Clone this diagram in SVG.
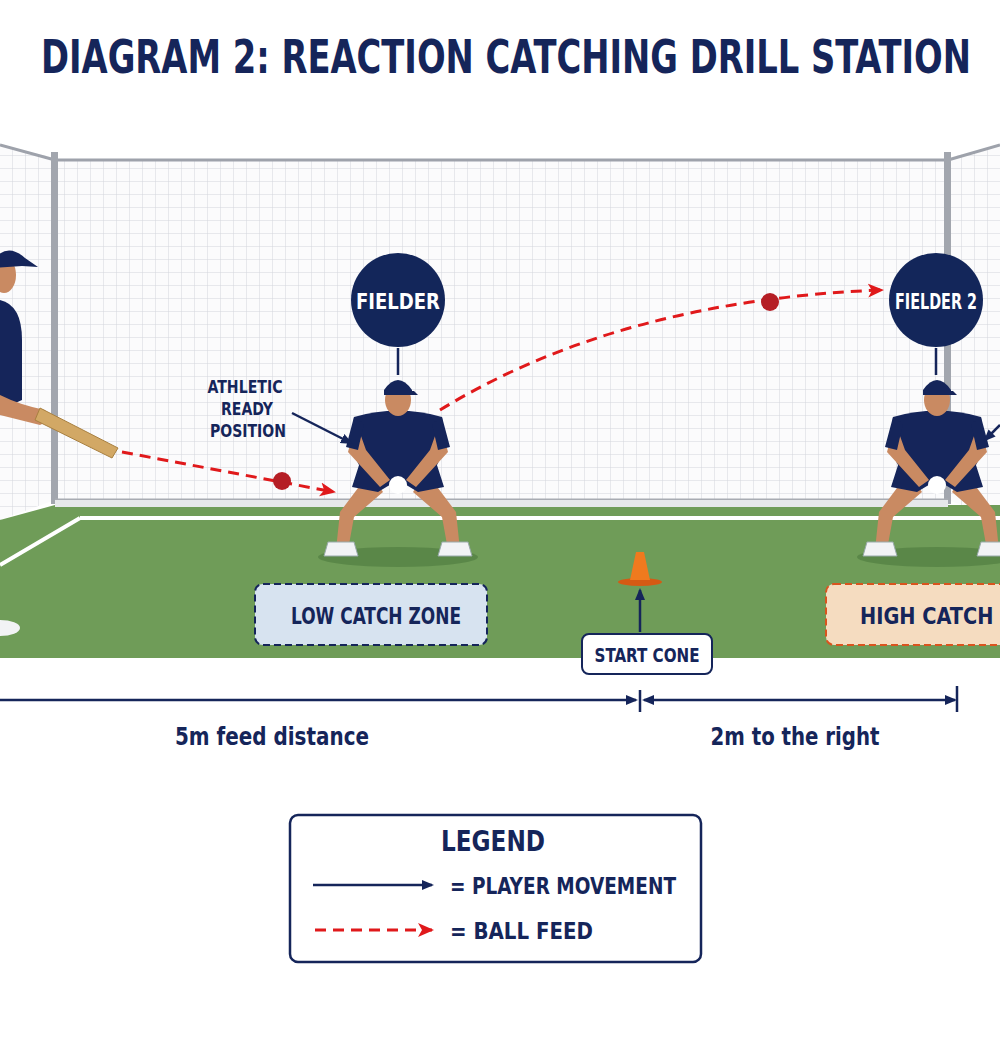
<svg xmlns="http://www.w3.org/2000/svg" width="1000" height="1056" viewBox="0 0 1000 1056">
<defs>
<style>
.t{font-family:"DejaVu Sans Condensed","DejaVu Sans",sans-serif;font-weight:bold;fill:#15255a}
.feed{fill:none;stroke:#e0191b;stroke-width:3;stroke-dasharray:11 7}
.nav{fill:none;stroke:#15255a;stroke-width:2.5}
.skin{fill:#c98a62}
.shirt{fill:#15255a}
</style>
<pattern id="net" width="13" height="13" patternUnits="userSpaceOnUse">
<rect width="13" height="13" fill="#fbfbfc"/>
<path d="M13 0V13M0 13H13" stroke="#d4d6dc" stroke-width="1"/>
</pattern>
<marker id="ar" markerWidth="16" markerHeight="16" refX="14" refY="8" orient="auto" markerUnits="userSpaceOnUse" viewBox="0 0 16 16"><path d="M0 1L16 8L0 15L4 8z" fill="#e0191b"/></marker>
<marker id="an" markerWidth="12" markerHeight="12" refX="10" refY="6" orient="auto" markerUnits="userSpaceOnUse" viewBox="0 0 12 12"><path d="M0 1L12 6L0 11z" fill="#15255a"/></marker>
<marker id="anr" markerWidth="12" markerHeight="12" refX="2" refY="6" orient="auto" markerUnits="userSpaceOnUse" viewBox="0 0 12 12"><path d="M12 1L0 6L12 11z" fill="#15255a"/></marker>
<g id="fielder">
<ellipse cx="0" cy="165" rx="80" ry="10" fill="#4d7a3e" opacity="0.6"/>
<path d="M-28 80 L-58 120 L-62 158 L-50 158 L-44 125 L-15 100Z" class="skin"/>
<path d="M28 80 L58 120 L62 158 L50 158 L44 125 L15 100Z" class="skin"/>
<path d="M-70 150h26l4 14h-34z M44 150h26l4 14h-34z" fill="#f2f3f5" stroke="#9aa" stroke-width="1"/>
<path d="M-38 70 L38 70 L46 95 L20 100 L0 88 L-20 100 L-46 95Z" class="shirt"/>
<path d="M-44 25 Q0 12 44 25 L48 55 L38 75 L-38 75 L-48 55Z" class="shirt"/>
<path d="M-42 30 L-50 60 L-18 95 L-8 88 L-32 58Z M42 30 L50 60 L18 95 L8 88 L32 58Z" class="skin"/>
<path d="M-44 25 L-52 55 L-40 58 L-34 32Z M44 25 L52 55 L40 58 L34 32Z" class="shirt"/>
<circle cx="0" cy="93" r="9" fill="#fff"/>
<ellipse cx="0" cy="8" rx="13" ry="16" class="skin"/>
<path d="M-14 -2 Q0 -22 14 -2 L14 0 H-14Z" class="shirt"/>
<path d="M-14 -1 H16 L20 3 H-14Z" class="shirt"/>
</g>
</defs>
<rect width="1000" height="1056" fill="#fff"/>
<rect x="55" y="160" width="893" height="340" fill="url(#net)"/>
<polygon points="0,145 55,158 55,500 0,520" fill="url(#net)"/>
<polygon points="948,158 1000,145 1000,520 948,500" fill="url(#net)"/>
<path d="M55 160H948 M0 145L55 160 M948 160L1000 145" stroke="#9ea2ab" stroke-width="3" fill="none"/>
<rect x="51" y="152" width="7" height="352" fill="#a2a6ae"/>
<rect x="944" y="152" width="7" height="352" fill="#a2a6ae"/>
<path d="M55 500H948" stroke="#a8abb2" stroke-width="3"/>
<polygon points="0,520 55,505 948,505 1000,505 1000,658 0,658" fill="#6f9c58"/>
<rect x="55" y="500" width="893" height="7" fill="#e6e8ea"/>
<path d="M80 518H1000 M0 565L80 518" stroke="#fff" stroke-width="4" fill="none"/>
<g id="batter">
<ellipse cx="0" cy="628" rx="20" ry="8" fill="#f2f3f5"/>
<path d="M0 300 Q22 305 22 340 L22 400 L0 410Z" class="shirt"/>
<path d="M0 395 Q20 405 45 410 L50 420 L40 425 L0 415Z" class="skin"/>
<path d="M40 408 L118 448 L112 458 L35 420Z" fill="#d2a865" stroke="#a88040" stroke-width="1"/>
<ellipse cx="4" cy="275" rx="12" ry="18" class="skin"/>
<path d="M-10 265 Q5 240 25 258 L38 267 L22 266 L-10 268Z" class="shirt"/>
</g>
<g id="fielder1"><use href="#fielder" x="398" y="392"/></g>
<g id="fielder2"><use href="#fielder" x="937" y="392"/></g>
<g id="low-zone"><rect x="255" y="584" width="232" height="61" rx="8" fill="#d7e3f0" stroke="#15255a" stroke-width="2" stroke-dasharray="7 4"/>
<text x="376" y="624" class="t" font-size="23" text-anchor="middle" textLength="170" lengthAdjust="spacingAndGlyphs">LOW CATCH ZONE</text></g>
<g id="high-zone"><rect x="826" y="584" width="200" height="61" rx="8" fill="#f5dcc0" stroke="#d9541e" stroke-width="2" stroke-dasharray="7 4"/>
<text x="860" y="624" class="t" font-size="23" textLength="200" lengthAdjust="spacingAndGlyphs">HIGH CATCH ZONE</text></g>
<g id="cone"><ellipse cx="640" cy="582" rx="22" ry="4" fill="#d55a14"/><path d="M630 580 L636 552 H644 L650 580Z" fill="#f07a1e"/></g>
<g id="start-cone"><rect x="582" y="634" width="130" height="40" rx="7" fill="#fff" stroke="#15255a" stroke-width="2"/>
<text x="647" y="662" class="t" font-size="19" text-anchor="middle" textLength="105" lengthAdjust="spacingAndGlyphs">START CONE</text></g>
<g id="fielder-label"><circle cx="398" cy="300" r="47" fill="#13265a"/><text x="398" y="309" class="t" font-size="22" text-anchor="middle" style="fill:#fff" textLength="84" lengthAdjust="spacingAndGlyphs">FIELDER</text></g>
<g id="fielder2-label"><circle cx="936" cy="300" r="47" fill="#13265a"/><text x="936" y="309" class="t" font-size="21" text-anchor="middle" style="fill:#fff" textLength="82" lengthAdjust="spacingAndGlyphs">FIELDER 2</text></g>
<g id="ready-label"><text class="t" font-size="18" text-anchor="middle"><tspan x="245" y="393" textLength="75" lengthAdjust="spacingAndGlyphs">ATHLETIC</tspan><tspan x="247" y="415" textLength="52" lengthAdjust="spacingAndGlyphs">READY</tspan><tspan x="248" y="437" textLength="76" lengthAdjust="spacingAndGlyphs">POSITION</tspan></text></g>
<g id="connectors">
<path d="M398 348V375 M936 348V375" stroke="#15255a" stroke-width="2.5"/>
<path d="M292 413L351 443" class="nav" marker-end="url(#an)"/>
<path d="M1000 425L985 440" class="nav" marker-end="url(#an)"/>
<path d="M640 632V590" class="nav" marker-end="url(#an)"/>
<path d="M122 452L334 492" class="feed" marker-end="url(#ar)"/>
<path d="M440 410Q620 300 882 290" class="feed" marker-end="url(#ar)"/>
<path d="M0 700H636" class="nav" marker-end="url(#an)"/>
<path d="M640 690V712 M957 686V712" stroke="#15255a" stroke-width="2.5"/>
<path d="M644 700H955" class="nav" marker-start="url(#anr)" marker-end="url(#an)"/>
</g>
<circle cx="282" cy="481" r="9" fill="#b51e25"/>
<circle cx="770" cy="302" r="9" fill="#b51e25"/>
<text x="272" y="745" class="t" font-size="24" text-anchor="middle" textLength="194" lengthAdjust="spacingAndGlyphs">5m feed distance</text>
<text x="795" y="745" class="t" font-size="24" text-anchor="middle" textLength="169" lengthAdjust="spacingAndGlyphs">2m to the right</text>
<g id="legend">
<rect x="290" y="815" width="411" height="147" rx="8" fill="#fff" stroke="#15255a" stroke-width="2.5"/>
<text x="493" y="851" class="t" font-size="28" text-anchor="middle" textLength="104" lengthAdjust="spacingAndGlyphs">LEGEND</text>
<path d="M313 885H432" class="nav" marker-end="url(#an)"/>
<text x="450" y="894" class="t" font-size="23" textLength="226" lengthAdjust="spacingAndGlyphs">=  PLAYER MOVEMENT</text>
<path d="M315 930H432" class="feed" marker-end="url(#ar)"/>
<text x="450" y="939" class="t" font-size="23" textLength="143" lengthAdjust="spacingAndGlyphs">=  BALL FEED</text>
</g>
<text x="506" y="73" class="t" font-size="46" text-anchor="middle" textLength="930" lengthAdjust="spacingAndGlyphs">DIAGRAM 2: REACTION CATCHING DRILL STATION</text>
</svg>
